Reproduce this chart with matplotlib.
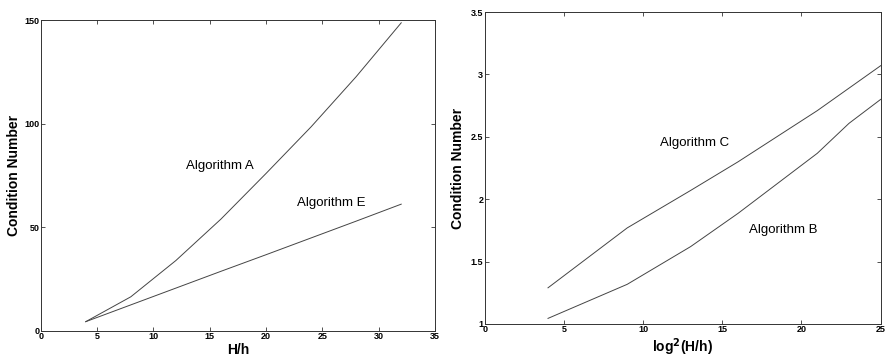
import matplotlib
matplotlib.use("Agg")
import matplotlib.pyplot as plt

plt.rcParams['font.family'] = ['Liberation Sans', 'DejaVu Sans']

# Left panel data
hh = [4, 8, 12, 16, 20, 24, 28, 32]
alg_a = [4.5, 16.5, 34.0, 54.0, 76.0, 98.5, 122.7, 148.7]
alg_e = [4.5, 12.6, 20.7, 28.8, 36.8, 44.9, 53.0, 61.2]

# Right panel data
log2hh = [4, 9, 13, 16, 21, 23, 25]
alg_c = [1.29, 1.77, 2.07, 2.30, 2.71, 2.89, 3.07]
alg_b = [1.045, 1.318, 1.62, 1.887, 2.368, 2.608, 2.80]

left_xticks = [0, 5, 10, 15, 20, 25, 30, 35]
left_yticks = [0, 50, 100, 150]
right_xticks = [0, 5, 10, 15, 20, 25]
right_yticks = [1, 1.5, 2, 2.5, 3, 3.5]
right_yticklabels = ['1', '1.5', '2', '2.5', '3', '3.5']

fig = plt.figure(figsize=(8.86, 3.59), dpi=100)
ax1 = fig.add_axes([0.0459, 0.078, 0.4451, 0.866])
ax2 = fig.add_axes([0.547, 0.0975, 0.447, 0.869])

lc = '#444444'
lw = 0.7

ax1.plot(hh, alg_a, color=lc, lw=lw)
ax1.plot(hh, alg_e, color=lc, lw=lw)
ax1.set_xlim(0, 35)
ax1.set_ylim(0, 150)
ax1.set_xticks(left_xticks)
ax1.set_yticks(left_yticks)
ax1.set_xlabel('H/h', fontsize=10, fontweight='bold', labelpad=1)
ax1.set_ylabel('Condition Number', fontsize=10, fontweight='bold', labelpad=2)
ax1.text(15.9, 79.7, 'Algorithm A', fontsize=9.5, ha='center', va='center')
ax1.text(25.8, 61.6, 'Algorithm E', fontsize=9.5, ha='center', va='center')

ax2.plot(log2hh, alg_c, color=lc, lw=lw)
ax2.plot(log2hh, alg_b, color=lc, lw=lw)
ax2.set_xlim(0, 25)
ax2.set_ylim(1, 3.5)
ax2.set_xticks(right_xticks)
ax2.set_yticks(right_yticks)
ax2.set_yticklabels(right_yticklabels)
ax2.set_xlabel('log$^{\\mathbf{2}}$(H/h)', fontsize=10, fontweight='bold', labelpad=1.5)
ax2.set_ylabel('Condition Number', fontsize=10, fontweight='bold', labelpad=4)
ax2.text(13.26, 2.448, 'Algorithm C', fontsize=9.5, ha='center', va='center')
ax2.text(18.83, 1.753, 'Algorithm B', fontsize=9.5, ha='center', va='center')

for ax in (ax1, ax2):
    ax.tick_params(direction='in', top=True, right=True, length=3, width=0.6,
                   labelsize=6.5, pad=1, color='#333333')
    for lab in ax.get_xticklabels() + ax.get_yticklabels():
        lab.set_fontweight('bold')
    for s in ax.spines.values():
        s.set_linewidth(0.7)
        s.set_color('#333333')

fig.savefig('out.png', dpi=100)
